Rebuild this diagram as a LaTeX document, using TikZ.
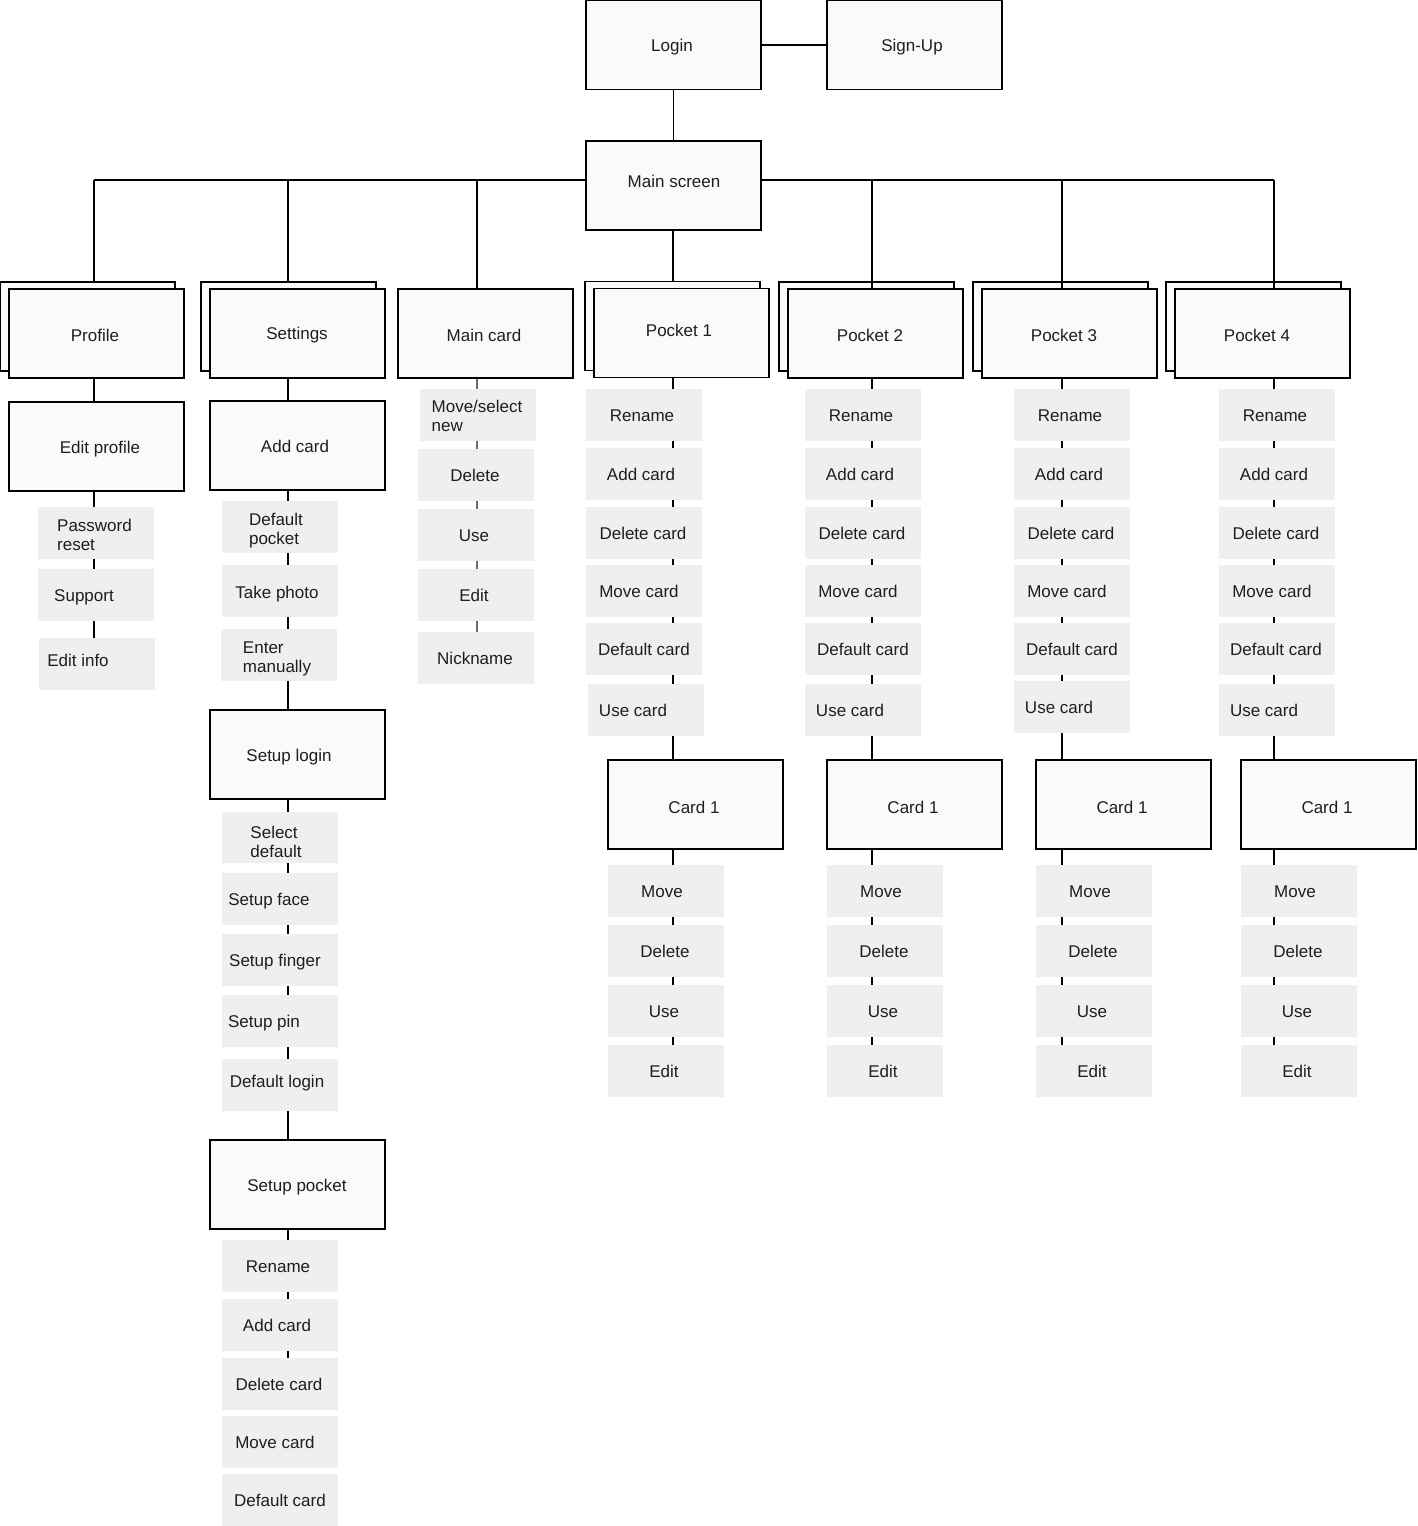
\documentclass[tikz,border=0pt]{standalone}
\usepackage{fontspec}
\setmainfont{Liberation Sans}
\definecolor{boxfill}{HTML}{FAFAFA}
\definecolor{chipfill}{HTML}{EFEFEF}
\definecolor{ink}{HTML}{1E1E1E}
\definecolor{softline}{HTML}{6E6E6E}

\tikzset{
  screen/.style={draw=black, line width=1.3pt, fill=boxfill,
    minimum width=175pt, minimum height=89pt, inner sep=0pt},
  chip/.style={fill=chipfill, draw=none, inner sep=0pt},
  lblbase/.style={text=ink, font=\fontsize{17}{19}\selectfont, align=left,
    inner sep=0pt},
  lbl/.style={lblbase, text height=12pt, text depth=3.5pt, yshift=-2pt},
  lbltwo/.style={lblbase},
  link/.style={draw=black, line width=1.3pt},
  softlink/.style={draw=softline, line width=1.3pt},
}

% screen box: name, centre x, centre y, label x, label y, label
\newcommand\screenbox[6]{%
  \node[screen] (#1) at (#2,#3) {};
  \node[lbl] (#1-t) at (#4,#5) {#6};}
% stacked screen: name, centre x, centre y of front box, label x, label y, label
\newcommand\stackbox[6]{%
  \node[screen] (#1-b) at ({#2-9},{#3-7}) {};
  \node[screen] (#1) at (#2,#3) {};
  \node[lbl] (#1-t) at (#4,#5) {#6};}
% grey action chip: name, x1, y1, x2, y2, label x, label y, label
\newcommand\chipbox[8]{%
  \node[chip, minimum width={#4-#2}, minimum height={#5-#3}] (#1)
    at ({(#2+#4)/2},{(#3+#5)/2}) {};
  \node[lbl] (#1-t) at (#6,#7) {#8};}
% grey action chip with a two-line label
\newcommand\chipboxtwo[8]{%
  \node[chip, minimum width={#4-#2}, minimum height={#5-#3}] (#1)
    at ({(#2+#4)/2},{(#3+#5)/2}) {};
  \node[lbltwo] (#1-t) at (#6,#7) {#8};}

\begin{document}
\begin{tikzpicture}[x=1pt,y=-1pt]
\useasboundingbox (0,0) rectangle (1417,1526);

% column guides on the top rail
\coordinate (xP) at (94,180);
\coordinate (xS) at (288,180);
\coordinate (xM) at (477,180);
\coordinate (xQ1) at (673,180);
\coordinate (xQ2) at (872,180);
\coordinate (xQ3) at (1062,180);
\coordinate (xQ4) at (1274,180);

% entry screens
\screenbox{login}{673.5}{45}{672}{45}{Login}
\screenbox{signup}{914.5}{45}{912}{45}{Sign-Up}
\screenbox{main}{673.5}{185.5}{674}{181}{Main screen}

% second level
\stackbox{profile}{96.5}{333.5}{95}{335}{Profile}
\stackbox{settings}{297.5}{333.5}{297}{333}{Settings}
\screenbox{maincard}{485.5}{333.5}{484}{335}{Main card}
\stackbox{p1}{681.5}{333}{679}{330}{Pocket 1}
\stackbox{p2}{875.5}{333.5}{870}{335}{Pocket 2}
\stackbox{p3}{1069.5}{333.5}{1064}{335}{Pocket 3}
\stackbox{p4}{1262.5}{333.5}{1257}{335}{Pocket 4}

% profile branch
\screenbox{editprofile}{96.5}{446.5}{100}{447}{Edit profile}
\chipboxtwo{pw}{38}{507}{154}{559}{94.5}{535}{Password\\reset}
\chipbox{support}{38}{569}{154}{621}{84}{595}{Support}
\chipbox{editinfo}{39}{638}{155}{690}{78}{660}{Edit info}

% settings branch
\screenbox{addcard}{297.5}{445.5}{295}{446}{Add card}
\chipboxtwo{defpocket}{222}{501}{338}{553}{276}{531}{Default\\pocket}
\chipbox{takephoto}{222}{565}{338}{617}{277}{592}{Take photo}
\chipboxtwo{entermanual}{221}{629}{337}{681}{277}{659}{Enter\\manually}
\screenbox{setuplogin}{297.5}{754.5}{289}{755}{Setup login}
\chipboxtwo{selectdef}{222}{812}{338}{863}{276}{842}{Select\\default}
\chipbox{setupface}{222}{873}{338}{925}{269}{899}{Setup face}
\chipbox{setupfinger}{222}{934}{338}{986}{275}{960}{Setup finger}
\chipbox{setuppin}{222}{995}{338}{1047}{264}{1021}{Setup pin}
\chipbox{deflogin}{222}{1059}{338}{1111}{277}{1081}{Default login}
\screenbox{setuppocket}{297.5}{1184.5}{297}{1185}{Setup pocket}
\chipbox{sp-ren}{222}{1240}{338}{1292}{278}{1266}{Rename}
\chipbox{sp-add}{222}{1299}{338}{1351}{277}{1325}{Add card}
\chipbox{sp-del}{222}{1358}{338}{1410}{279}{1384}{Delete card}
\chipbox{sp-mov}{222}{1416}{338}{1468}{275}{1442}{Move card}
\chipbox{sp-def}{222}{1474}{338}{1526}{280}{1500}{Default card}

% main card branch
\chipboxtwo{mc-mov}{420}{389}{536}{441}{477}{416}{Move/select\\new}
\chipbox{mc-del}{418}{449}{534}{501}{475}{475}{Delete}
\chipbox{mc-use}{418}{509}{534}{561}{474}{535}{Use}
\chipbox{mc-edt}{418}{569}{534}{621}{474}{595}{Edit}
\chipbox{mc-nick}{418}{632}{534}{684}{475}{658}{Nickname}

% pocket 1
\chipbox{p1-ren}{586}{389}{702}{441}{642}{415}{Rename}
\chipbox{p1-add}{586}{448}{702}{500}{641}{474}{Add card}
\chipbox{p1-del}{586}{507}{702}{559}{643}{533}{Delete card}
\chipbox{p1-mov}{586}{565}{702}{617}{639}{591}{Move card}
\chipbox{p1-def}{586}{623}{702}{675}{644}{649}{Default card}
\chipbox{p1-use}{588}{684}{704}{736}{633}{710}{Use card}
\screenbox{c1}{695.5}{804.5}{694}{807}{Card 1}
\chipbox{c1-mov}{608}{865}{724}{917}{662}{891}{Move}
\chipbox{c1-del}{608}{925}{724}{977}{665}{951}{Delete}
\chipbox{c1-use}{608}{985}{724}{1037}{664}{1011}{Use}
\chipbox{c1-edt}{608}{1045}{724}{1097}{664}{1071}{Edit}

% pocket 2
\chipbox{p2-ren}{805}{389}{921}{441}{861}{415}{Rename}
\chipbox{p2-add}{805}{448}{921}{500}{860}{474}{Add card}
\chipbox{p2-del}{805}{507}{921}{559}{862}{533}{Delete card}
\chipbox{p2-mov}{805}{565}{921}{617}{858}{591}{Move card}
\chipbox{p2-def}{805}{623}{921}{675}{863}{649}{Default card}
\chipbox{p2-use}{805}{684}{921}{736}{850}{710}{Use card}
\screenbox{c2}{914.5}{804.5}{913}{807}{Card 1}
\chipbox{c2-mov}{827}{865}{943}{917}{881}{891}{Move}
\chipbox{c2-del}{827}{925}{943}{977}{884}{951}{Delete}
\chipbox{c2-use}{827}{985}{943}{1037}{883}{1011}{Use}
\chipbox{c2-edt}{827}{1045}{943}{1097}{883}{1071}{Edit}

% pocket 3
\chipbox{p3-ren}{1014}{389}{1130}{441}{1070}{415}{Rename}
\chipbox{p3-add}{1014}{448}{1130}{500}{1069}{474}{Add card}
\chipbox{p3-del}{1014}{507}{1130}{559}{1071}{533}{Delete card}
\chipbox{p3-mov}{1014}{565}{1130}{617}{1067}{591}{Move card}
\chipbox{p3-def}{1014}{623}{1130}{675}{1072}{649}{Default card}
\chipbox{p3-use}{1014}{681}{1130}{733}{1059}{707}{Use card}
\screenbox{c3}{1123.5}{804.5}{1122}{807}{Card 1}
\chipbox{c3-mov}{1036}{865}{1152}{917}{1090}{891}{Move}
\chipbox{c3-del}{1036}{925}{1152}{977}{1093}{951}{Delete}
\chipbox{c3-use}{1036}{985}{1152}{1037}{1092}{1011}{Use}
\chipbox{c3-edt}{1036}{1045}{1152}{1097}{1092}{1071}{Edit}

% pocket 4
\chipbox{p4-ren}{1219}{389}{1335}{441}{1275}{415}{Rename}
\chipbox{p4-add}{1219}{448}{1335}{500}{1274}{474}{Add card}
\chipbox{p4-del}{1219}{507}{1335}{559}{1276}{533}{Delete card}
\chipbox{p4-mov}{1219}{565}{1335}{617}{1272}{591}{Move card}
\chipbox{p4-def}{1219}{623}{1335}{675}{1276}{649}{Default card}
\chipbox{p4-use}{1219}{684}{1335}{736}{1264}{710}{Use card}
\screenbox{c4}{1328.5}{804.5}{1327}{807}{Card 1}
\chipbox{c4-mov}{1241}{865}{1357}{917}{1295}{891}{Move}
\chipbox{c4-del}{1241}{925}{1357}{977}{1298}{951}{Delete}
\chipbox{c4-use}{1241}{985}{1357}{1037}{1297}{1011}{Use}
\chipbox{c4-edt}{1241}{1045}{1357}{1097}{1297}{1071}{Edit}

% top connectors
\draw[link] (login.east) -- (signup.west);
\draw[link] (login.south) -- (main.north);
\draw[link] (xP) -- (xP -| main.west);
\draw[link] (xP -| main.east) -- (xQ4);
\draw[link] (xP) -- (profile-b.north -| xP);
\draw[link] (xS) -- (settings-b.north -| xS);
\draw[link] (xM) -- (maincard.north -| xM);
\draw[link] (main.south -| xQ1) -- (p1-b.north -| xQ1);
\draw[link] (xQ2) -- (p2.north -| xQ2);
\draw[link] (xQ3) -- (p3.north -| xQ3);
\draw[link] (xQ4) -- (p4.north -| xQ4);

% profile chain
\foreach \a/\b in {profile/editprofile, editprofile/pw, pw/support, support/editinfo}
  \draw[link] (\a.south -| xP) -- (\b.north -| xP);

% settings chain
\foreach \a/\b in {settings/addcard, addcard/defpocket, defpocket/takephoto,
    takephoto/entermanual, entermanual/setuplogin, setuplogin/selectdef,
    selectdef/setupface, setupface/setupfinger, setupfinger/setuppin,
    setuppin/deflogin, deflogin/setuppocket, setuppocket/sp-ren,
    sp-ren/sp-add, sp-add/sp-del}
  \draw[link] (\a.south -| xS) -- (\b.north -| xS);

% main card chain
\foreach \a/\b in {maincard/mc-mov, mc-mov/mc-del, mc-del/mc-use,
    mc-use/mc-edt, mc-edt/mc-nick}
  \draw[softlink] (\a.south -| xM) -- (\b.north -| xM);

% pocket chains
\foreach \k in {1,2,3,4} {
  \foreach \a/\b in {p\k/p\k-ren, p\k-ren/p\k-add, p\k-add/p\k-del,
      p\k-del/p\k-mov, p\k-mov/p\k-def, p\k-def/p\k-use, p\k-use/c\k,
      c\k/c\k-mov, c\k-mov/c\k-del, c\k-del/c\k-use, c\k-use/c\k-edt}
    \draw[link] (\a.south -| xQ\k) -- (\b.north -| xQ\k);
}
\end{tikzpicture}
\end{document}
